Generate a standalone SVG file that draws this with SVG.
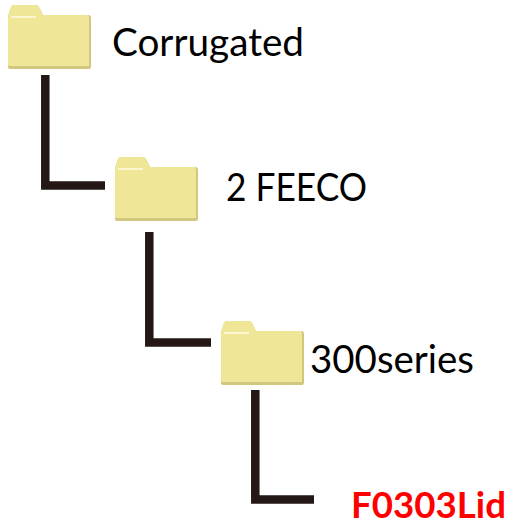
<svg xmlns="http://www.w3.org/2000/svg" width="510" height="525" viewBox="0 0 510 525">
<style>
.lbl{font-family:Lato,"Liberation Sans",sans-serif;font-size:38px;fill:#000}
.red{font-family:Lato,"Liberation Sans",sans-serif;font-size:37px;font-weight:700;fill:#f00}
.conn{fill:none;stroke:#231815;stroke-width:8.5px}
</style>
<defs>
<g id="folder">
<path d="M0 62V13Q0 10 1 8L3 2Q4 0 7 0H27Q30 0 31 2L35 10H80Q83 10 83 13V62Q83 64 81 64H3Q0 64 0 62Z" fill="#d3c67f"/>
<path d="M0 60V13Q0 10 1 8L3 2Q4 0 7 0H27Q30 0 31 2L35 10H79Q81 10 81 13V61H2Q0 61 0 60Z" fill="#f0e698"/>
<rect x="3" y="11" width="25" height="2" fill="#fbf6d0"/>
</g>
</defs>
<rect width="510" height="525" fill="#fff"/>
<g id="connectors">
<path class="conn" d="M45.300 75V185.500H105"/>
<path class="conn" d="M149.300 232V342.500H211"/>
<path class="conn" d="M255.300 390V499.500H314"/>
</g>
<g id="n1"><use href="#folder" x="8" y="5"/><text class="lbl" x="112" y="56" textLength="192" lengthAdjust="spacingAndGlyphs">Corrugated</text></g>
<g id="n2"><use href="#folder" x="115" y="157"/><text class="lbl" x="226" y="201" textLength="141" lengthAdjust="spacingAndGlyphs">2 FEECO</text></g>
<g id="n3"><use href="#folder" x="221" y="321"/><text class="lbl" x="310" y="373" textLength="164" lengthAdjust="spacingAndGlyphs">300series</text></g>
<g id="n4"><text class="red" x="351" y="518" textLength="155" lengthAdjust="spacingAndGlyphs">F0303Lid</text></g>
</svg>
